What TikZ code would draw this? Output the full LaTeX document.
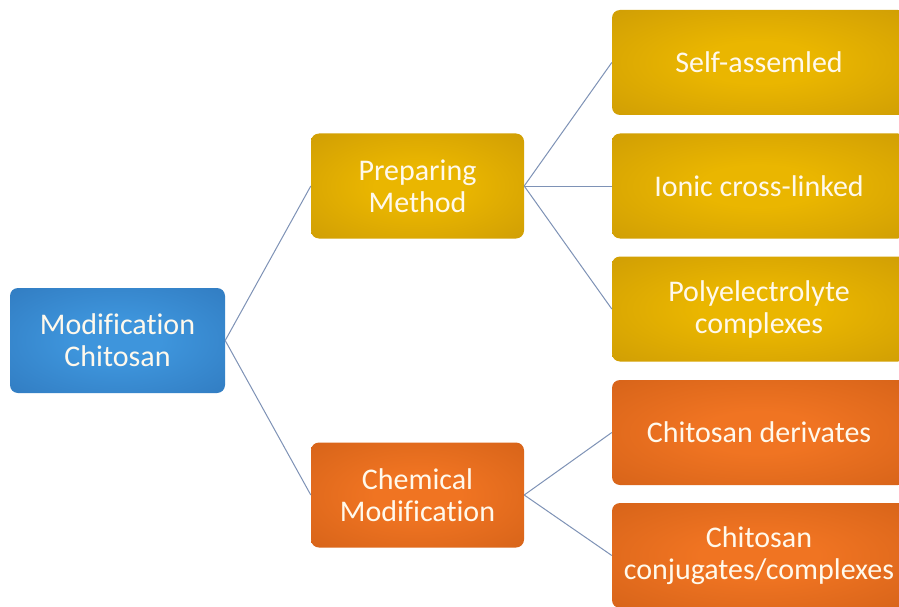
\documentclass[tikz,border=0pt]{standalone}
\usepackage{fontspec}
\setmainfont[Ligatures=NoCommon]{Carlito}
\usetikzlibrary{shadings}
\definecolor{bluein}{HTML}{3E95DC}
\definecolor{blueout}{HTML}{2768AC}
\definecolor{goldin}{HTML}{EAB600}
\definecolor{goldout}{HTML}{BA8A08}
\definecolor{orgin}{HTML}{F07422}
\definecolor{orgout}{HTML}{C25612}
\definecolor{linec}{HTML}{7E92B6}
\definecolor{txtc}{HTML}{FFF9EC}
\pgfdeclareradialshading{bluesh}{\pgfpoint{0bp}{0bp}}{color(0bp)=(bluein); color(10bp)=(bluein); color(58bp)=(blueout)}
\pgfdeclareradialshading{goldsh}{\pgfpoint{0bp}{0bp}}{color(0bp)=(goldin); color(10bp)=(goldin); color(58bp)=(goldout)}
\pgfdeclareradialshading{orgsh}{\pgfpoint{0bp}{0bp}}{color(0bp)=(orgin); color(10bp)=(orgin); color(58bp)=(orgout)}
\tikzset{
  box/.style={rounded corners=8pt, shade, align=center, text=txtc,
    font=\fontsize{30}{32}\selectfont, inner sep=0pt, minimum height=105pt},
  midbox/.style={box, minimum width=213pt},
  rightbox/.style={box, minimum width=294pt},
  conn/.style={draw=linec, line width=1pt}
}
\begin{document}
\begin{tikzpicture}[x=1pt,y=-1pt]
\useasboundingbox (0,0) rectangle (899,607);
\clip (0,0) rectangle (899,607);
\fill[white] (0,0) rectangle (899,607);
\node[midbox, minimum width=215pt, shading=bluesh] (root) at (117.5,340.5) {Modification\\Chitosan};
\node[midbox, shading=goldsh] (prep) at (417.5,186) {Preparing\\Method};
\node[midbox, shading=orgsh] (chem) at (417.5,495) {Chemical\\Modification};
\node[rightbox, shading=goldsh] (self) at (759,62.5) {Self-assemled};
\node[rightbox, shading=goldsh] (ionic) at (759,186) {Ionic cross-linked};
\node[rightbox, shading=goldsh] (poly) at (759,309) {Polyelectrolyte\\complexes};
\node[rightbox, shading=orgsh] (deriv) at (759,432.5) {Chitosan derivates};
\node[rightbox, shading=orgsh] (conj) at (759,555.5) {Chitosan\\conjugates/complexes};
\draw[conn] (root.east) -- (prep.west);
\draw[conn] (root.east) -- (chem.west);
\draw[conn] (prep.east) -- (self.west);
\draw[conn] (prep.east) -- (ionic.west);
\draw[conn] (prep.east) -- (poly.west);
\draw[conn] (chem.east) -- (deriv.west);
\draw[conn] (chem.east) -- (conj.west);
\end{tikzpicture}
\end{document}
